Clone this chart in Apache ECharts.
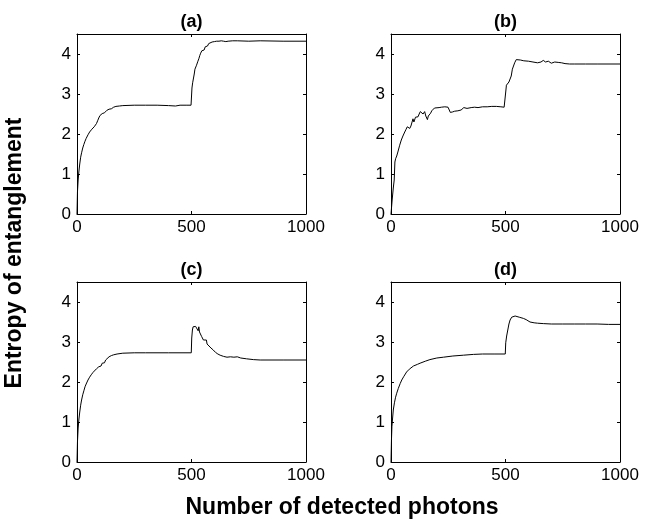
<!DOCTYPE html>
<html>
<head>
<meta charset="utf-8">
<script src="https://cdn.jsdelivr.net/npm/echarts@6/dist/echarts.min.js"></script>
<style>html,body{margin:0;padding:0;background:#fff}#c{width:654px;height:521px}</style>
</head>
<body>
<div id="c"></div>
<script>
// ---- data ----
const panelTitles = ['(a)', '(b)', '(c)', '(d)'];
const xTicks = [0, 500, 1000];
const yTicks = [0, 1, 2, 3, 4];
const xAxisTitle = 'Number of detected photons';
const yAxisTitle = 'Entropy of entanglement';

const xA = [0,2,5,8,12,16,20,25,30,35,40,48,55,60,65,70,75,80,85,90,95,100,105,110,115,120,125,130,135,140,150,160,170,185,200,250,300,350,400,430,450,480,498,500,502,505,508,512,515,518,522,525,528,532,536,540,545,550,555,560,565,570,575,580,590,600,610,620,630,640,645,650,660,680,700,750,800,900,1000];
const yA = [0,0.55,0.85,1.05,1.25,1.42,1.53,1.65,1.74,1.82,1.89,1.98,2.05,2.09,2.12,2.16,2.18,2.22,2.26,2.33,2.40,2.46,2.44,2.51,2.55,2.53,2.58,2.59,2.57,2.62,2.63,2.67,2.69,2.70,2.71,2.72,2.72,2.72,2.71,2.70,2.72,2.72,2.72,2.72,3.15,3.28,3.33,3.50,3.62,3.66,3.72,3.70,3.82,3.88,3.96,4.02,4.08,4.12,4.10,4.18,4.22,4.20,4.26,4.28,4.30,4.31,4.32,4.32,4.33,4.32,4.27,4.31,4.32,4.33,4.33,4.32,4.33,4.32,4.32];

const xB = [0,5,10,14,17,20,25,30,38,45,52,60,66,71,76,82,87,92,96,100,103,107,111,115,118,123,128,132,136,140,144,147,152,156,159,163,168,173,178,183,190,198,210,220,235,249,255,259,263,268,273,278,285,292,300,306,312,318,325,332,340,350,365,380,400,420,440,460,480,494,499,501,504,510,515,520,525,530,535,540,547,555,565,580,600,620,640,655,665,675,687,700,715,730,745,760,780,800,850,900,1000];
const yB = [0,0.35,0.65,0.85,1.30,1.38,1.45,1.55,1.72,1.85,1.95,2.05,2.12,2.18,2.15,2.14,2.20,2.22,2.38,2.30,2.33,2.42,2.45,2.38,2.43,2.50,2.56,2.52,2.58,2.50,2.47,2.56,2.45,2.40,2.36,2.45,2.48,2.52,2.58,2.63,2.65,2.68,2.66,2.67,2.68,2.67,2.62,2.54,2.58,2.55,2.60,2.57,2.60,2.58,2.62,2.60,2.64,2.66,2.68,2.64,2.65,2.66,2.67,2.66,2.68,2.68,2.69,2.69,2.68,2.67,2.65,3.05,3.22,3.27,3.30,3.35,3.45,3.62,3.70,3.78,3.86,3.86,3.85,3.83,3.82,3.80,3.78,3.80,3.84,3.80,3.82,3.77,3.80,3.79,3.78,3.76,3.75,3.75,3.75,3.75,3.75];

const xC = [0,2,5,8,12,16,20,25,30,35,40,48,55,62,70,78,85,90,95,100,105,110,115,120,125,130,140,150,160,175,200,250,300,400,499,501,504,507,512,518,522,526,529,532,535,540,544,548,552,556,560,565,568,575,585,595,605,615,625,640,655,670,685,700,715,740,770,800,900,1000];
const yC = [0,0.5,0.85,1.05,1.25,1.42,1.55,1.68,1.78,1.88,1.95,2.05,2.12,2.18,2.24,2.28,2.33,2.30,2.38,2.42,2.40,2.47,2.50,2.48,2.55,2.59,2.63,2.66,2.68,2.70,2.72,2.73,2.73,2.73,2.73,3.10,3.30,3.38,3.40,3.39,3.40,3.36,3.28,3.38,3.25,3.20,3.14,3.10,3.05,3.03,3.00,3.05,2.95,2.92,2.85,2.80,2.74,2.70,2.67,2.64,2.62,2.63,2.62,2.63,2.60,2.58,2.56,2.55,2.55,2.55];

const xD = [0,2,4,7,10,15,20,25,32,40,47,55,68,80,98,115,127,150,170,200,229,270,316,360,400,450,499,501,505,510,515,520,527,534,542,549,560,578,590,607,625,640,665,700,750,800,850,900,950,1000];
const yD = [0,0.55,0.88,1.10,1.30,1.48,1.62,1.72,1.84,1.96,2.05,2.13,2.25,2.32,2.40,2.44,2.47,2.52,2.56,2.60,2.62,2.65,2.67,2.69,2.70,2.70,2.70,2.98,3.15,3.30,3.45,3.55,3.62,3.65,3.65,3.64,3.62,3.59,3.56,3.50,3.48,3.47,3.46,3.45,3.45,3.45,3.45,3.45,3.44,3.44];

const seriesX = [xA, xB, xC, xD];
const seriesY = [yA, yB, yC, yD];

// ---- layout ----
const FONT = '"Liberation Sans", Arial, Helvetica, sans-serif';
const grids = [
  {left: 77, top: 34, width: 229, height: 180},
  {left: 391, top: 34, width: 229, height: 180},
  {left: 77, top: 282, width: 229, height: 180},
  {left: 391, top: 282, width: 229, height: 180}
];
const lineStyle = {color: '#000', width: 1};
const xAxes = [], yAxes = [], series = [], graphics = [];
grids.forEach((g, i) => {
  const base = {
    type: 'value', gridIndex: i, min: xTicks[0], max: xTicks[xTicks.length - 1],
    interval: xTicks[1] - xTicks[0],
    axisLine: {show: true, onZero: false, lineStyle},
    axisTick: {show: true, inside: true, length: 3, lineStyle},
    splitLine: {show: false}
  };
  xAxes.push(Object.assign({}, base, {position: 'bottom',
    axisLabel: {show: true, color: '#000', fontSize: 17, fontFamily: FONT, margin: 5,
      formatter: v => String(v)}}));
  xAxes.push(Object.assign({}, base, {position: 'top', axisLabel: {show: false}}));
  const ybase = {
    type: 'value', gridIndex: i, min: 0, max: 4.5, interval: yTicks[1] - yTicks[0],
    axisLine: {show: true, onZero: false, lineStyle},
    axisTick: {show: true, inside: true, length: 3, lineStyle},
    splitLine: {show: false}
  };
  yAxes.push(Object.assign({}, ybase, {position: 'left',
    axisLabel: {show: true, color: '#000', fontSize: 17, fontFamily: FONT, margin: 6, showMaxLabel: false,
      formatter: v => (yTicks.indexOf(v) >= 0 ? String(v) : '')}}));
  yAxes.push(Object.assign({}, ybase, {position: 'right', axisLabel: {show: false}}));
  series.push({
    type: 'line', xAxisIndex: 2 * i, yAxisIndex: 2 * i, showSymbol: false, symbol: 'none',
    lineStyle: {color: '#000', width: 1}, animation: false,
    data: seriesX[i].map((x, k) => [x, seriesY[i][k]])
  });
  graphics.push({
    type: 'text', x: g.left + g.width / 2, y: g.top - 12,
    style: {text: panelTitles[i], font: 'bold 18px ' + FONT, fill: '#000', align: 'center', verticalAlign: 'middle'}
  });
});
graphics.push({
  type: 'text', x: 15, y: 253, rotation: Math.PI / 2,
  style: {text: yAxisTitle, font: 'bold 23px ' + FONT, fill: '#000', align: 'center', verticalAlign: 'middle'}
});
graphics.push({
  type: 'text', x: 342, y: 508,
  style: {text: xAxisTitle, font: 'bold 23px ' + FONT, fill: '#000', align: 'center', verticalAlign: 'middle'}
});

const chart = echarts.init(document.getElementById('c'), null, {renderer: 'canvas'});
chart.setOption({
  animation: false,
  backgroundColor: '#fff',
  grid: grids.map(g => Object.assign({containLabel: false, show: false}, g)),
  xAxis: xAxes,
  yAxis: yAxes,
  series: series,
  graphic: graphics
});
</script>
</body>
</html>
